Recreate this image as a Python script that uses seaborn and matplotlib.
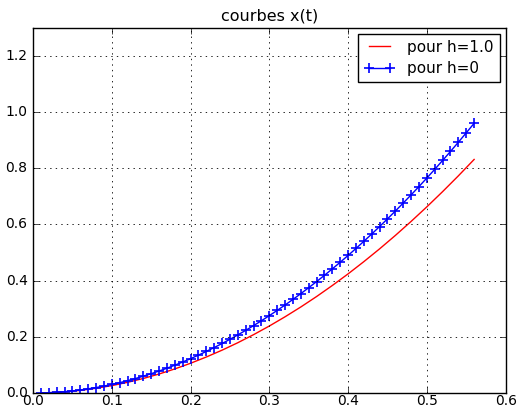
import matplotlib
matplotlib.use("Agg")
import matplotlib.pyplot as plt
import pandas as pd
import seaborn as sns

# temps (s) et positions
t_h0 = [0.01, 0.02, 0.03, 0.04, 0.05, 0.06, 0.07, 0.08, 0.09, 0.10,
        0.11, 0.12, 0.13, 0.14, 0.15, 0.16, 0.17, 0.18, 0.19, 0.20,
        0.21, 0.22, 0.23, 0.24, 0.25, 0.26, 0.27, 0.28, 0.29, 0.30,
        0.31, 0.32, 0.33, 0.34, 0.35, 0.36, 0.37, 0.38, 0.39, 0.40,
        0.41, 0.42, 0.43, 0.44, 0.45, 0.46, 0.47, 0.48, 0.49, 0.50,
        0.51, 0.52, 0.53, 0.54, 0.55, 0.56]
x_h0 = [0.0003, 0.0012, 0.0028, 0.0049, 0.0077, 0.0110, 0.0150, 0.0196, 0.0248, 0.0306,
        0.0370, 0.0441, 0.0517, 0.0600, 0.0689, 0.0783, 0.0884, 0.0991, 0.1105, 0.1224,
        0.1349, 0.1481, 0.1619, 0.1763, 0.1913, 0.2069, 0.2231, 0.2399, 0.2573, 0.2754,
        0.2941, 0.3133, 0.3332, 0.3537, 0.3749, 0.3966, 0.4189, 0.4419, 0.4654, 0.4896,
        0.5144, 0.5398, 0.5658, 0.5924, 0.6197, 0.6475, 0.6760, 0.7050, 0.7347, 0.7650,
        0.7959, 0.8274, 0.8596, 0.8923, 0.9257, 0.9596]

t_h1 = [0.01, 0.02, 0.04, 0.06, 0.08, 0.10, 0.12, 0.14, 0.16, 0.18, 0.20,
        0.22, 0.24, 0.26, 0.28, 0.30, 0.32, 0.34, 0.36, 0.38, 0.40,
        0.42, 0.44, 0.46, 0.48, 0.50, 0.52, 0.54, 0.56]
x_h1 = [0.0003, 0.0011, 0.0042, 0.0095, 0.0170, 0.0265, 0.0382, 0.0519, 0.0678, 0.0859, 0.1060,
        0.1283, 0.1526, 0.1791, 0.2078, 0.2385, 0.2714, 0.3063, 0.3434, 0.3827, 0.4240,
        0.4675, 0.5130, 0.5607, 0.6106, 0.6625, 0.7166, 0.7727, 0.8310]

plt.style.use("classic")
plt.rcParams["figure.facecolor"] = "white"
plt.rcParams["savefig.facecolor"] = "white"

fig = plt.figure(figsize=(5.17, 4.12), dpi=100)
ax = fig.add_axes([0.064, 0.046, 0.914, 0.887])

sns.lineplot(x=t_h1, y=x_h1, ax=ax, color="r", lw=1.0, label="pour h=1.0",
             estimator=None, sort=False)
sns.lineplot(x=t_h0, y=x_h0, ax=ax, color="b", lw=1.0, marker="+", ms=7,
             mec="b", mew=1.2, label="pour h=0", estimator=None, sort=False)

ax.set_xlim(0, 0.6)
ax.set_ylim(0, 1.3)
ax.set_xticks([0.0, 0.1, 0.2, 0.3, 0.4, 0.5, 0.6])
ax.set_yticks([0.0, 0.2, 0.4, 0.6, 0.8, 1.0, 1.2])
ax.set_xticklabels(["0.0", "0.1", "0.2", "0.3", "0.4", "0.5", "0.6"])
ax.tick_params(labelsize=10)
ax.tick_params(axis="x", pad=1)
ax.grid(True, linestyle=":", color="k", linewidth=0.6)
ax.set_title("courbes x(t)", fontsize=11.5)
ax.set_xlabel("")
ax.set_ylabel("")
ax.legend(loc="upper right", fontsize=11, numpoints=2, labelspacing=0.4,
          borderaxespad=0.4)

fig.savefig("out.png", dpi=100)
